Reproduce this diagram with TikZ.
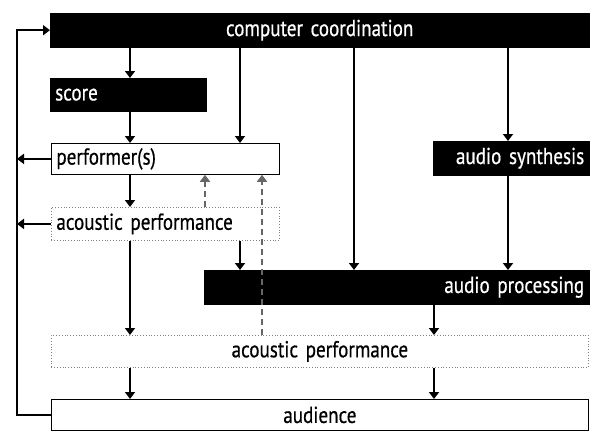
\documentclass[tikz,border=0pt]{standalone}
\usepackage{fontspec}
\setmainfont[FakeStretch=0.83,FakeBold=0.6,WordSpace=0.7]{PT Sans}
\usetikzlibrary{arrows.meta}
\begin{document}
\begin{tikzpicture}[x=1pt,y=-1pt,
    box/.style={rectangle, anchor=north west, inner xsep=5pt, inner ysep=0pt,
      font=\fontsize{23}{24}\selectfont},
    blk/.style={box, fill=black, draw=black, text=white},
    wht/.style={box, draw=black, line width=0.8pt},
    dot/.style={box, draw=gray, dotted, line width=0.8pt},
    arr/.style={-{Triangle[length=7pt,width=10pt]}, line width=1.9pt},
    dsh/.style={arr, gray!80!black, dash pattern=on 6pt off 4pt}]
\useasboundingbox (0,0) rectangle (593,431);
% columns of the connectors
\coordinate (c1) at (130,0);
\coordinate (c2) at (240,0);
\coordinate (c3) at (354,0);
\coordinate (c4) at (508,0);
\coordinate (c5) at (205,0);
\coordinate (c6) at (262,0);
\coordinate (c7) at (434,0);
\coordinate (fb) at (17,0);
% boxes
\node[blk, minimum width=539pt, minimum height=34pt, text width=529pt, align=center] (cc) at (50,13) {computer coordination};
\node[blk, minimum width=156pt, minimum height=33pt, text width=146pt, align=left] (sc) at (50,78) {score};
\node[wht, minimum width=228pt, minimum height=31pt, text width=218pt, align=left] (pf) at (51,143) {performer(s)};
\node[blk, minimum width=156pt, minimum height=34pt, text width=146pt, align=right] (as) at (433,141) {audio synthesis};
\node[dot, minimum width=228pt, minimum height=33pt, text width=218pt, align=left] (ap1) at (51,207) {acoustic performance};
\node[blk, minimum width=385pt, minimum height=34pt, text width=375pt, align=right] (pr) at (204,270) {audio processing};
\node[dot, minimum width=537pt, minimum height=32pt, text width=527pt, align=center] (ap2) at (51,335) {acoustic performance};
\node[wht, minimum width=537pt, minimum height=31pt, text width=527pt, align=center] (au) at (51,399) {audience};
% connectors
\draw[arr] (cc.south -| c1) -- (sc.north -| c1);
\draw[arr] (sc.south -| c1) -- (pf.north -| c1);
\draw[arr] (cc.south -| c2) -- (pf.north -| c2);
\draw[arr] (cc.south -| c3) -- (pr.north -| c3);
\draw[arr] (cc.south -| c4) -- (as.north -| c4);
\draw[arr] (as.south -| c4) -- (pr.north -| c4);
\draw[arr] (pf.south -| c1) -- (ap1.north -| c1);
\draw[arr] (ap1.south -| c1) -- (ap2.north -| c1);
\draw[arr] (ap1.south -| c2) -- (pr.north -| c2);
\draw[arr] (pr.south -| c7) -- (ap2.north -| c7);
\draw[arr] (ap2.south -| c1) -- (au.north -| c1);
\draw[arr] (ap2.south -| c7) -- (au.north -| c7);
\draw[dsh] (ap1.north -| c5) -- (pf.south -| c5);
\draw[dsh] (ap2.north -| c6) -- (pf.south -| c6);
% feedback
\draw[arr] (pf.west) -- (pf.west -| fb);
\draw[arr] (ap1.west) -- (ap1.west -| fb);
\draw[arr] (au.west) -- (au.west -| fb) -- (cc.west -| fb) -- (cc.west);
\end{tikzpicture}
\end{document}
